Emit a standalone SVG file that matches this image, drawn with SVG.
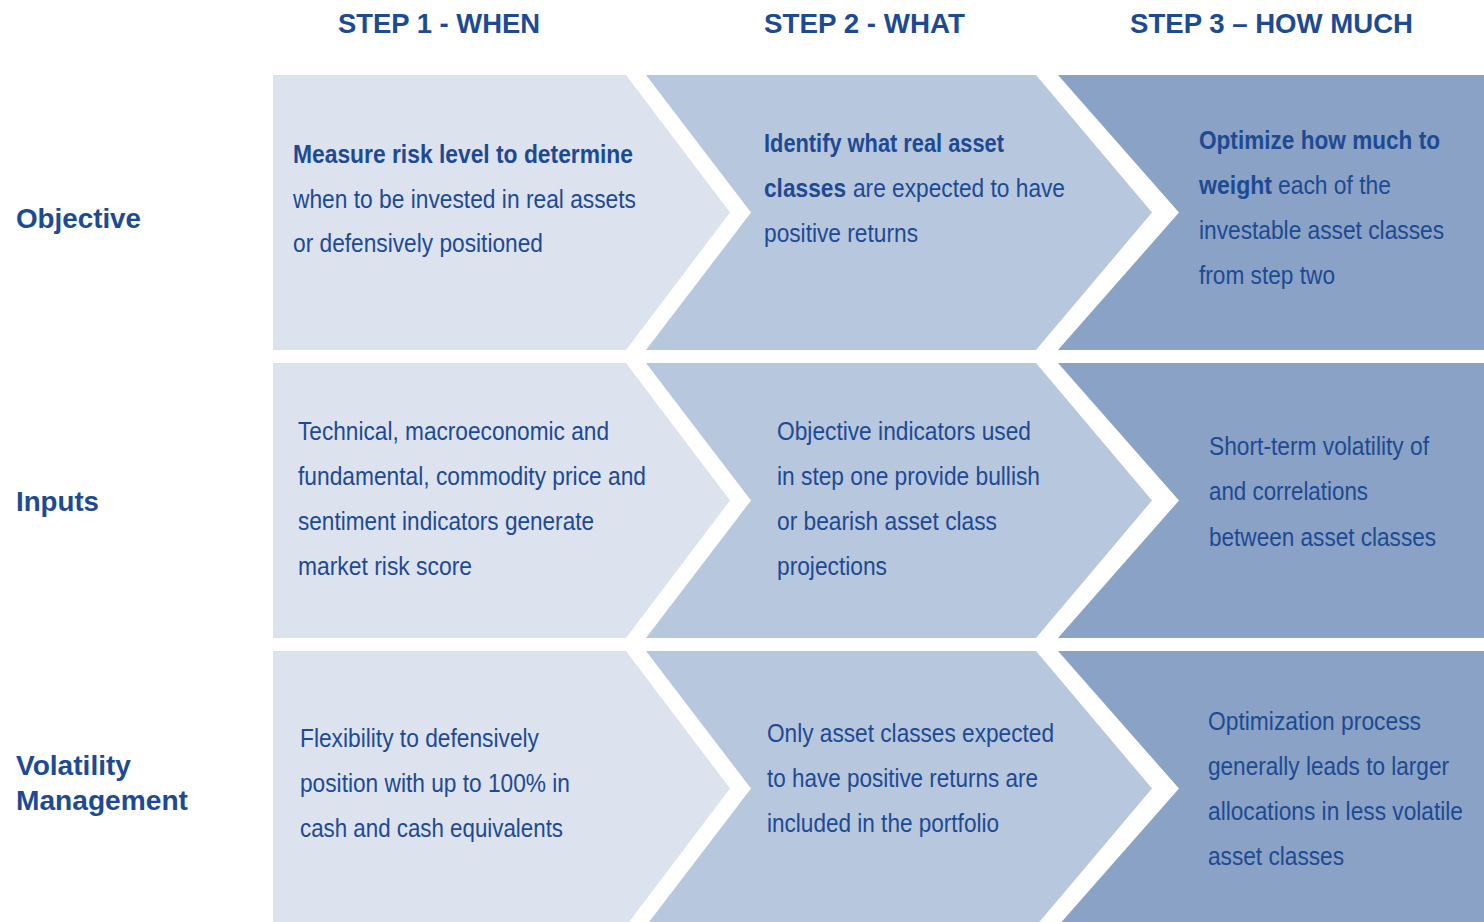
<svg xmlns="http://www.w3.org/2000/svg" width="1484" height="922" viewBox="0 0 1484 922">
<style>
.c1{fill:#DCE2EE}
.c2{fill:#B7C7DD}
.c3{fill:#89A2C6}
text{font-family:"Liberation Sans",Arial,sans-serif;fill:#1E4A92}
.h{font-size:28px;font-weight:bold}
.r{font-size:28px;font-weight:bold}
.t{font-size:25px}
.b{font-size:25px;font-weight:bold}
</style>
<rect width="1484" height="922" fill="#FFFFFF"/>
<g id="headers">
<text class="h" x="338" y="33" textLength="202" lengthAdjust="spacingAndGlyphs">STEP 1 - WHEN</text>
<text class="h" x="764" y="33" textLength="201" lengthAdjust="spacingAndGlyphs">STEP 2 - WHAT</text>
<text class="h" x="1130" y="33" textLength="283" lengthAdjust="spacingAndGlyphs">STEP 3 – HOW MUCH</text>
</g>
<g id="row-labels">
<text class="r" x="16" y="228" textLength="125" lengthAdjust="spacingAndGlyphs">Objective</text>
<text class="r" x="16" y="511" textLength="83" lengthAdjust="spacingAndGlyphs">Inputs</text>
<text class="r" x="16" y="775" textLength="115" lengthAdjust="spacingAndGlyphs">Volatility</text>
<text class="r" x="16" y="810" textLength="172" lengthAdjust="spacingAndGlyphs">Management</text>
</g>
<g id="connectors"></g>
<!-- Row 1 -->
<g id="obj-step1">
<polygon class="c1" points="273,75 626,75 730,212.5 626,350 273,350"/>
<text class="b" x="293" y="163" textLength="340" lengthAdjust="spacingAndGlyphs">Measure risk level to determine</text>
<text class="t" x="293" y="207.5" textLength="343" lengthAdjust="spacingAndGlyphs">when to be invested in real assets</text>
<text class="t" x="293" y="252" textLength="250" lengthAdjust="spacingAndGlyphs">or defensively positioned</text>
</g>
<g id="obj-step2">
<polygon class="c2" points="646,75 1036,75 1152,212.5 1036,350 646,350 751,212.5"/>
<text class="b" x="764" y="152" textLength="240" lengthAdjust="spacingAndGlyphs">Identify what real asset</text>
<text class="b" x="764" y="197" textLength="82" lengthAdjust="spacingAndGlyphs">classes</text>
<text class="t" x="853" y="197" textLength="212" lengthAdjust="spacingAndGlyphs">are expected to have</text>
<text class="t" x="764" y="242" textLength="154" lengthAdjust="spacingAndGlyphs">positive returns</text>
</g>
<g id="obj-step3">
<polygon class="c3" points="1058,75 1484,75 1484,350 1058,350 1179,212.5"/>
<text class="b" x="1199" y="148.5" textLength="241" lengthAdjust="spacingAndGlyphs">Optimize how much to</text>
<text class="b" x="1199" y="193.5" textLength="73" lengthAdjust="spacingAndGlyphs">weight</text>
<text class="t" x="1278" y="193.5" textLength="113" lengthAdjust="spacingAndGlyphs">each of the</text>
<text class="t" x="1199" y="238.5" textLength="245" lengthAdjust="spacingAndGlyphs">investable asset classes</text>
<text class="t" x="1199" y="283.5" textLength="136" lengthAdjust="spacingAndGlyphs">from step two</text>
</g>
<!-- Row 2 -->
<g id="inp-step1">
<polygon class="c1" points="273,363 626,363 730,500.5 626,638 273,638"/>
<text class="t" x="298" y="440" textLength="311" lengthAdjust="spacingAndGlyphs">Technical, macroeconomic and</text>
<text class="t" x="298" y="485" textLength="348" lengthAdjust="spacingAndGlyphs">fundamental, commodity price and</text>
<text class="t" x="298" y="530" textLength="296" lengthAdjust="spacingAndGlyphs">sentiment indicators generate</text>
<text class="t" x="298" y="575" textLength="174" lengthAdjust="spacingAndGlyphs">market risk score</text>
</g>
<g id="inp-step2">
<polygon class="c2" points="646,363 1036,363 1152,500.5 1036,638 646,638 751,500.5"/>
<text class="t" x="777" y="440" textLength="254" lengthAdjust="spacingAndGlyphs">Objective indicators used</text>
<text class="t" x="777" y="485" textLength="263" lengthAdjust="spacingAndGlyphs">in step one provide bullish</text>
<text class="t" x="777" y="530" textLength="220" lengthAdjust="spacingAndGlyphs">or bearish asset class</text>
<text class="t" x="777" y="575" textLength="110" lengthAdjust="spacingAndGlyphs">projections</text>
</g>
<g id="inp-step3">
<polygon class="c3" points="1058,363 1484,363 1484,638 1058,638 1179,500.5"/>
<text class="t" x="1209" y="455" textLength="220" lengthAdjust="spacingAndGlyphs">Short-term volatility of</text>
<text class="t" x="1209" y="500" textLength="159" lengthAdjust="spacingAndGlyphs">and correlations</text>
<text class="t" x="1209" y="546" textLength="227" lengthAdjust="spacingAndGlyphs">between asset classes</text>
</g>
<!-- Row 3 -->
<g id="vol-step1">
<polygon class="c1" points="273,651 626,651 730,788.5 626,926 273,926"/>
<text class="t" x="300" y="747" textLength="239" lengthAdjust="spacingAndGlyphs">Flexibility to defensively</text>
<text class="t" x="300" y="792" textLength="270" lengthAdjust="spacingAndGlyphs">position with up to 100% in</text>
<text class="t" x="300" y="837" textLength="263" lengthAdjust="spacingAndGlyphs">cash and cash equivalents</text>
</g>
<g id="vol-step2">
<polygon class="c2" points="646,651 1036,651 1152,788.5 1036,926 646,926 751,788.5"/>
<text class="t" x="767" y="741.5" textLength="287" lengthAdjust="spacingAndGlyphs">Only asset classes expected</text>
<text class="t" x="767" y="786.5" textLength="271" lengthAdjust="spacingAndGlyphs">to have positive returns are</text>
<text class="t" x="767" y="832" textLength="232" lengthAdjust="spacingAndGlyphs">included in the portfolio</text>
</g>
<g id="vol-step3">
<polygon class="c3" points="1058,651 1484,651 1484,926 1058,926 1179,788.5"/>
<text class="t" x="1208" y="730" textLength="213" lengthAdjust="spacingAndGlyphs">Optimization process</text>
<text class="t" x="1208" y="775" textLength="241" lengthAdjust="spacingAndGlyphs">generally leads to larger</text>
<text class="t" x="1208" y="820" textLength="255" lengthAdjust="spacingAndGlyphs">allocations in less volatile</text>
<text class="t" x="1208" y="865" textLength="136" lengthAdjust="spacingAndGlyphs">asset classes</text>
</g>
</svg>
